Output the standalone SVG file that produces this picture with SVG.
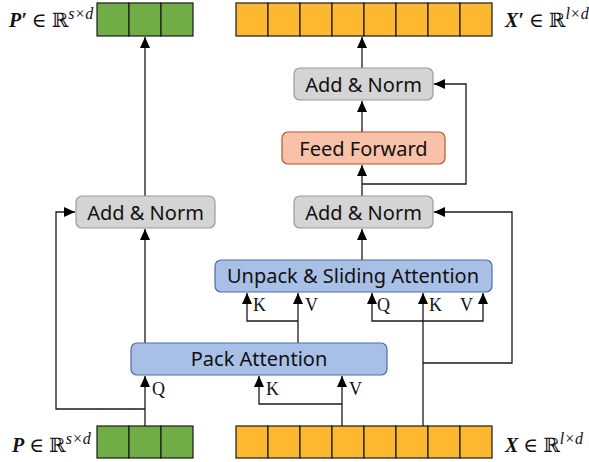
<svg xmlns="http://www.w3.org/2000/svg" width="589" height="462" viewBox="0 0 589 462">
<defs>
<marker id="ah" markerUnits="userSpaceOnUse" markerWidth="12" markerHeight="12" viewBox="0 0 12 12" refX="11" refY="6" orient="auto">
<path d="M0,1 L11,6 L0,11 Z" fill="#000"/>
</marker>
</defs>
<style>
.c{fill:none;stroke:#1a1a1a;stroke-width:1.3}
.g{fill:#70AD47;stroke:#1a1a1a;stroke-width:1.2}
.o{fill:#FBB830;stroke:#1a1a1a;stroke-width:1.2}
.an{fill:#D4D4D4;stroke:#9A9A9A;stroke-width:1.2}
.ff{fill:#F9C2A8;stroke:#B5552F;stroke-width:1.2}
.bl{fill:#A8C0E6;stroke:#4A6EA8;stroke-width:1.2}
.t{font-family:"Noto Sans","Open Sans",sans-serif;font-size:20px;fill:#111;text-anchor:middle;dominant-baseline:central}
.l{font-family:"Liberation Serif","DejaVu Serif",serif;font-size:18px;fill:#111}
.m{font-family:"Liberation Serif","DejaVu Serif",serif;font-size:20px;fill:#111}
.bi{font-weight:bold;font-style:italic}
.ds{font-family:"DejaVu Serif",serif}
.sup{font-style:italic;font-size:16px}
</style>
<g id="arrays">
<g id="P_out"><rect class="g" x="97" y="3" width="32" height="33"/><rect class="g" x="129" y="3" width="32" height="33"/><rect class="g" x="161" y="3" width="32" height="33"/></g>
<g id="P_in"><rect class="g" x="97" y="426" width="32" height="32"/><rect class="g" x="129" y="426" width="32" height="32"/><rect class="g" x="161" y="426" width="32" height="32"/></g>
<g id="X_out"><rect class="o" x="236" y="3" width="32" height="33"/><rect class="o" x="268" y="3" width="32" height="33"/><rect class="o" x="300" y="3" width="32" height="33"/><rect class="o" x="332" y="3" width="32" height="33"/><rect class="o" x="364" y="3" width="32" height="33"/><rect class="o" x="396" y="3" width="32" height="33"/><rect class="o" x="428" y="3" width="32" height="33"/><rect class="o" x="460" y="3" width="32" height="33"/></g>
<g id="X_in"><rect class="o" x="236" y="426" width="32" height="32"/><rect class="o" x="268" y="426" width="32" height="32"/><rect class="o" x="300" y="426" width="32" height="32"/><rect class="o" x="332" y="426" width="32" height="32"/><rect class="o" x="364" y="426" width="32" height="32"/><rect class="o" x="396" y="426" width="32" height="32"/><rect class="o" x="428" y="426" width="32" height="32"/><rect class="o" x="460" y="426" width="32" height="32"/></g>
</g>
<g id="labels">
<text class="m" x="9" y="27"><tspan class="bi">P′</tspan> ∈ <tspan class="ds">ℝ</tspan><tspan class="sup" dy="-8">s×d</tspan></text>
<text class="m" x="12" y="452"><tspan class="bi">P</tspan> ∈ <tspan class="ds">ℝ</tspan><tspan class="sup" dy="-8">s×d</tspan></text>
<text class="m" x="505" y="27"><tspan class="bi">X′</tspan> ∈ <tspan class="ds">ℝ</tspan><tspan class="sup" dy="-8">l×d</tspan></text>
<text class="m" x="505" y="452"><tspan class="bi">X</tspan> ∈ <tspan class="ds">ℝ</tspan><tspan class="sup" dy="-8">l×d</tspan></text>
</g>
<g id="connectors">
<path class="c" d="M145,196 V37" marker-end="url(#ah)"/>
<path class="c" d="M145,343 V229" marker-end="url(#ah)"/>
<path class="c" d="M145,426 V376" marker-end="url(#ah)"/>
<path class="c" d="M145,409 H56 V212 H75" marker-end="url(#ah)"/>
<path class="c" d="M342,426 V376" marker-end="url(#ah)"/>
<path class="c" d="M342,404 H259 V376" marker-end="url(#ah)"/>
<path class="c" d="M298,343 V293" marker-end="url(#ah)"/>
<path class="c" d="M298,321 H247 V293" marker-end="url(#ah)"/>
<path class="c" d="M423,426 V293" marker-end="url(#ah)"/>
<path class="c" d="M423,321 H372 V293" marker-end="url(#ah)"/>
<path class="c" d="M423,321 H483 V293" marker-end="url(#ah)"/>
<path class="c" d="M423,363 H512 V212 H434" marker-end="url(#ah)"/>
<path class="c" d="M362,260 V229" marker-end="url(#ah)"/>
<path class="c" d="M362,196 V165" marker-end="url(#ah)"/>
<path class="c" d="M362,184 H466 V84 H434" marker-end="url(#ah)"/>
<path class="c" d="M362,132 V101" marker-end="url(#ah)"/>
<path class="c" d="M362,68 V37" marker-end="url(#ah)"/>
<text class="l" x="152" y="395">Q</text>
<text class="l" x="266" y="395">K</text>
<text class="l" x="349" y="395">V</text>
<text class="l" x="253" y="311">K</text>
<text class="l" x="305" y="311">V</text>
<text class="l" x="377" y="311">Q</text>
<text class="l" x="429" y="311">K</text>
<text class="l" x="460" y="311">V</text>
</g>
<g id="addnorm_left"><rect class="an" x="76" y="196" width="139" height="32" rx="6"/><text class="t" x="145.5" y="212">Add &amp; Norm</text></g>
<g id="pack_attention"><rect class="bl" x="131" y="343" width="256" height="32" rx="6"/><text class="t" x="259" y="358">Pack Attention</text></g>
<g id="unpack_sliding"><rect class="bl" x="215" y="260" width="277" height="32" rx="6"/><text class="t" x="353" y="275">Unpack &amp; Sliding Attention</text></g>
<g id="addnorm_1"><rect class="an" x="294" y="196" width="139" height="32" rx="6"/><text class="t" x="363.5" y="212">Add &amp; Norm</text></g>
<g id="feed_forward"><rect class="ff" x="282" y="132" width="163" height="32" rx="6"/><text class="t" x="363.5" y="148">Feed Forward</text></g>
<g id="addnorm_2"><rect class="an" x="294" y="68" width="139" height="32" rx="6"/><text class="t" x="363.5" y="84">Add &amp; Norm</text></g>
</svg>
